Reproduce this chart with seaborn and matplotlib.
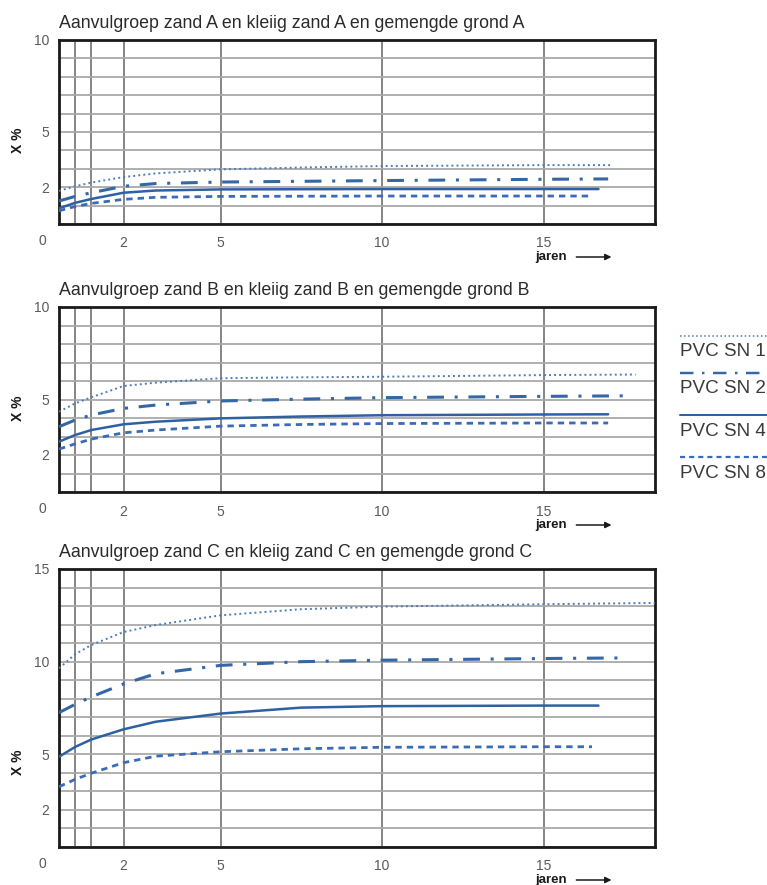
import matplotlib
matplotlib.use("Agg")
import matplotlib.pyplot as plt
import matplotlib.transforms as mtransforms
from matplotlib.lines import Line2D
import numpy as np
import pandas as pd
import seaborn as sns

# ---------------- data ----------------
series = ["PVC SN 1", "PVC SN 2", "PVC SN 4", "PVC SN 8"]
titles = [
    "Aanvulgroep zand A en kleiig zand A en gemengde grond A",
    "Aanvulgroep zand B en kleiig zand B en gemengde grond B",
    "Aanvulgroep zand C en kleiig zand C en gemengde grond C",
]
years = [0, 0.5, 1, 2, 3, 5, 7.5, 10, 15]          # read positions (jaren)
x_ticks = [2, 5, 10, 15]
x_minor = [0.5, 1]

# Panel A
A_end = [17.1, 17.0, 16.7, 16.5]
A_sn1 = [1.80, 2.05, 2.25, 2.55, 2.75, 2.97, 3.07, 3.15, 3.20, 3.20]
A_sn2 = [1.25, 1.50, 1.70, 2.05, 2.20, 2.28, 2.32, 2.36, 2.43, 2.45]
A_sn4 = [0.85, 1.15, 1.36, 1.70, 1.82, 1.88, 1.89, 1.90, 1.90, 1.90]
A_sn8 = [0.72, 0.95, 1.12, 1.34, 1.45, 1.50, 1.51, 1.52, 1.52, 1.52]
A_yticks = [2, 5, 10]

# Panel B
B_end = [17.85, 17.75, 17.0, 17.0]
B_sn1 = [4.34, 4.79, 5.12, 5.73, 5.91, 6.15, 6.20, 6.23, 6.32, 6.35]
B_sn2 = [3.53, 3.89, 4.16, 4.52, 4.70, 4.92, 5.02, 5.10, 5.17, 5.20]
B_sn4 = [2.72, 3.08, 3.35, 3.66, 3.80, 3.98, 4.08, 4.15, 4.19, 4.20]
B_sn8 = [2.32, 2.60, 2.86, 3.20, 3.35, 3.56, 3.65, 3.70, 3.73, 3.73]
B_yticks = [2, 5, 10]

# Panel C
C_end = [18.45, 17.3, 16.7, 16.5]
C_sn1 = [9.64, 10.40, 10.90, 11.60, 11.98, 12.50, 12.83, 12.97, 13.10, 13.17]
C_sn2 = [7.25, 7.70, 8.10, 8.80, 9.35, 9.80, 10.00, 10.08, 10.17, 10.20]
C_sn4 = [4.87, 5.40, 5.80, 6.35, 6.76, 7.20, 7.52, 7.60, 7.63, 7.63]
C_sn8 = [3.25, 3.65, 3.98, 4.55, 4.90, 5.14, 5.30, 5.38, 5.41, 5.41]
C_yticks = [2, 5, 10, 15]

# ---------------- style ----------------
sns.set_theme(style="white")
plt.rcParams["font.family"] = ["Liberation Sans", "DejaVu Sans"]

colors = {"PVC SN 1": "#4d7db8", "PVC SN 2": "#3467a6",
          "PVC SN 4": "#2e60a4", "PVC SN 8": "#3a6cb6"}
dashes = {"PVC SN 1": (1, 1.6), "PVC SN 2": (5.5, 3.5, 1, 3.5),
          "PVC SN 4": "", "PVC SN 8": (2.3, 1.8)}
widths = {"PVC SN 1": 1.4, "PVC SN 2": 2.2, "PVC SN 4": 1.8, "PVC SN 8": 2.0}

W, H = 767, 885
fig = plt.figure(figsize=(W / 100, H / 100), dpi=100)

panels = [
    (titles[0], A_end, [A_sn1, A_sn2, A_sn4, A_sn8], A_yticks, 10, (40, 224)),
    (titles[1], B_end, [B_sn1, B_sn2, B_sn4, B_sn8], B_yticks, 10, (307, 492)),
    (titles[2], C_end, [C_sn1, C_sn2, C_sn4, C_sn8], C_yticks, 15, (569, 847)),
]

left_px, right_px = 59, 655
for title, ends, ys, yticks, ymax, (top_px, bot_px) in panels:
    ax = fig.add_axes([left_px / W, 1 - bot_px / H,
                       (right_px - left_px) / W, (bot_px - top_px) / H])
    rows = []
    for s, end, yv in zip(series, ends, ys):
        for xx, yy in zip(years + [end], yv):
            rows.append({"jaren": xx, "X": yy, "serie": s})
    df = pd.DataFrame(rows)
    sns.lineplot(data=df, x="jaren", y="X", hue="serie", style="serie",
                 size="serie", palette=colors, dashes=dashes, sizes=widths,
                 estimator=None, sort=False, legend=False, ax=ax, zorder=3)

    ax.set_xlim(0, 18.45)
    ax.set_ylim(0, ymax)
    ax.set_xticks(x_minor + x_ticks)
    ax.set_xticklabels([""] * len(x_minor) + [str(t) for t in x_ticks])
    ax.set_yticks(list(range(0, ymax + 1)))
    ax.set_yticklabels([str(t) if t in yticks else "" for t in range(0, ymax + 1)])
    ax.grid(axis="x", color="#7c7c7c", lw=1.3, zorder=0)
    ax.grid(axis="y", color="#a9a9a9", lw=1.3, zorder=0)
    ax.set_axisbelow(True)
    ax.tick_params(length=0, labelsize=10, labelcolor="#5a5a5a")
    ax.tick_params(axis="x", pad=9)
    ax.tick_params(axis="y", pad=7)
    for sp in ax.spines.values():
        sp.set_visible(True)
        sp.set_color("#1a1a1a")
        sp.set_linewidth(2)
    ax.set_xlabel("")
    ax.set_ylabel("X %", fontweight="bold", fontsize=10, color="#1a1a1a")
    ax.yaxis.set_label_coords(-0.057, 4.55 / ymax)
    ax.set_title(title, loc="left", fontsize=12.8, color="#2a2a2a", pad=8.5)

    # corner zero
    ax.annotate("0", xy=(0, 0), xycoords="axes fraction", xytext=(-12.2, -12.5),
                textcoords="offset points", ha="center", va="center",
                fontsize=10, color="#5a5a5a")
    # jaren with arrow
    trans = mtransforms.offset_copy(ax.transAxes, fig=fig, x=0, y=-33, units="dots")
    ax.text(0.8255, 0, "jaren", transform=trans, ha="center", va="center",
            fontsize=9.5, fontweight="bold", color="#1a1a1a")
    ax.annotate("", xy=(0.927, 0), xycoords=trans, xytext=(0.868, 0), textcoords=trans,
                arrowprops=dict(arrowstyle="-|>", color="#1a1a1a", lw=1.1,
                                mutation_scale=9, shrinkA=0, shrinkB=0))

# ---------------- legend (right side) ----------------
leg_line_y = [336, 373, 415, 457]
leg_text_y = [352, 388, 431, 473]
for s, ly, ty in zip(series, leg_line_y, leg_text_y):
    ln = Line2D([680 / W, 1.0], [1 - ly / H] * 2, transform=fig.transFigure,
                color=colors[s], lw=widths[s] * 0.8)
    if dashes[s]:
        ln.set_dashes(dashes[s])
    fig.add_artist(ln)
    fig.text(680 / W, 1 - ty / H, s, ha="left", va="center", fontsize=13.6,
             color="#3a3a3a")

fig.savefig("out.png", dpi=100)
